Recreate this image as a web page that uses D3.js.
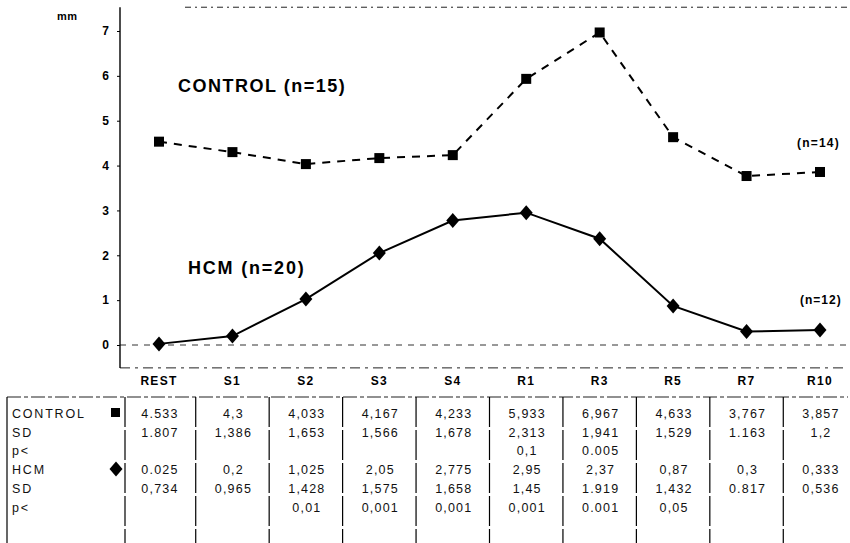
<!DOCTYPE html>
<html><head><meta charset="utf-8">
<script src="https://cdn.jsdelivr.net/npm/d3@7"></script>
<style>
body{margin:0;background:#fff;}
svg{display:block;font-family:"Liberation Sans",Arial,sans-serif;}
</style></head>
<body><svg id="c" width="850" height="543"></svg>
<script>
const categories = ["REST","S1","S2","S3","S4","R1","R3","R5","R7","R10"];
const controlMean = ["4.533","4,3","4,033","4,167","4,233","5,933","6,967","4,633","3,767","3,857"];
const controlSD   = ["1.807","1,386","1,653","1,566","1,678","2,313","1,941","1,529","1.163","1,2"];
const controlP    = ["","","","","","0,1","0.005","","",""];
const hcmMean     = ["0.025","0,2","1,025","2,05","2,775","2,95","2,37","0,87","0,3","0,333"];
const hcmSD       = ["0,734","0,965","1,428","1,575","1,658","1,45","1.919","1,432","0.817","0,536"];
const hcmP        = ["","","0,01","0,001","0,001","0,001","0.001","0,05","",""];
const yTicks = [0,1,2,3,4,5,6,7];

const num = s => +s.replace(",", ".");
const svg = d3.select("#c");
const x = d3.scalePoint().domain(categories).range([159, 820]);
const y = d3.scaleLinear().domain([0, 7]).range([345, 31]);
const axisX = 120, rightX = 848;

// frame lines
svg.append("line").attr("x1", 185).attr("x2", rightX).attr("y1", y(7.53)).attr("y2", y(7.53))
  .attr("stroke", "#222").attr("stroke-width", 1).attr("stroke-dasharray", "6,4,2,4");
svg.append("line").attr("x1", axisX).attr("x2", rightX).attr("y1", y(-0.51)).attr("y2", y(-0.51))
  .attr("stroke", "#222").attr("stroke-width", 1).attr("stroke-dasharray", "10,5,3,5");
svg.append("line").attr("x1", axisX).attr("x2", rightX).attr("y1", y(0)).attr("y2", y(0))
  .attr("stroke", "#333").attr("stroke-width", 1).attr("stroke-dasharray", "6,6");

// y axis
const ya = svg.append("g").attr("transform", `translate(${axisX},0)`)
  .call(d3.axisLeft(y).tickValues(yTicks).tickSize(3).tickPadding(8).tickFormat(d3.format("d")));
ya.select(".domain").remove();
ya.append("line").attr("x1", 0).attr("x2", 0).attr("y1", y(7.53)).attr("y2", y(-0.51))
  .attr("stroke", "#000").attr("stroke-width", 1.4);
ya.selectAll(".tick line").attr("stroke", "#000");
ya.selectAll(".tick text").attr("font-size", 12).attr("font-weight", "bold").attr("fill", "#000")
  .attr("font-family", "Liberation Sans, Arial, sans-serif");
svg.append("text").attr("x", 57).attr("y", 20).text("mm")
  .attr("font-size", 11).attr("font-weight", "bold").attr("letter-spacing", 0.5);

// x labels
svg.append("g").selectAll("text").data(categories).join("text")
  .attr("x", d => x(d)).attr("y", 385).attr("text-anchor", "middle")
  .attr("font-size", 12).attr("font-weight", "bold").attr("letter-spacing", 1.3).text(d => d);

// lines
const line = d3.line().x((d, i) => x(categories[i])).y(d => y(num(d)));
svg.append("path").datum(controlMean).attr("d", line).attr("fill", "none")
  .attr("stroke", "#000").attr("stroke-width", 2).attr("stroke-dasharray", "8,7");
svg.append("path").datum(hcmMean).attr("d", line).attr("fill", "none")
  .attr("stroke", "#000").attr("stroke-width", 2);

svg.append("g").selectAll("rect").data(controlMean).join("rect")
  .attr("x", (d, i) => x(categories[i]) - 5).attr("y", d => y(num(d)) - 5)
  .attr("width", 10).attr("height", 10).attr("fill", "#000");
const diamond = "M0,-7.5L6.5,0L0,7.5L-6.5,0Z";
svg.append("g").selectAll("path").data(hcmMean).join("path")
  .attr("transform", (d, i) => `translate(${x(categories[i])},${y(num(d))})`)
  .attr("d", diamond).attr("fill", "#000");

// annotations
svg.append("text").attr("x", 178).attr("y", 92).text("CONTROL (n=15)")
  .attr("font-size", 18).attr("font-weight", "bold").attr("letter-spacing", 1.5);
svg.append("text").attr("x", 188).attr("y", 274).text("HCM (n=20)")
  .attr("font-size", 18).attr("font-weight", "bold").attr("letter-spacing", 1.8);
svg.append("text").attr("x", 797).attr("y", 147).text("(n=14)")
  .attr("font-size", 12).attr("font-weight", "bold").attr("letter-spacing", 1.2);
svg.append("text").attr("x", 800).attr("y", 304).text("(n=12)")
  .attr("font-size", 12).attr("font-weight", "bold").attr("letter-spacing", 1);

// table
const tableTop = 397, tableLeft = 7, rowH = 18.7, firstRowY = 418;
const rows = [
  {label: "CONTROL", vals: controlMean, sym: "sq"},
  {label: "SD", vals: controlSD},
  {label: "p<", vals: controlP},
  {label: "HCM", vals: hcmMean, sym: "di"},
  {label: "SD", vals: hcmSD},
  {label: "p<", vals: hcmP}
];
svg.append("line").attr("x1", tableLeft).attr("x2", rightX).attr("y1", tableTop).attr("y2", tableTop)
  .attr("stroke", "#222").attr("stroke-width", 1.2).attr("stroke-dasharray", "14,3,4,3");
const step = x.step();
const seps = [125].concat(categories.slice(0, -1).map(c => x(c) + step / 2));
svg.append("line").attr("x1", tableLeft).attr("x2", tableLeft).attr("y1", tableTop).attr("y2", 543)
  .attr("stroke", "#000").attr("stroke-width", 1.2);
svg.append("g").selectAll("line").data(seps).join("line")
  .attr("x1", d => d).attr("x2", d => d).attr("y1", tableTop).attr("y2", 543)
  .attr("stroke", "#000").attr("stroke-width", 1.2).attr("stroke-dasharray", "30,3");
const tg = svg.append("g").attr("font-size", 12.5).attr("fill", "#111");
rows.forEach((r, ri) => {
  const yy = firstRowY + ri * rowH;
  tg.append("text").attr("x", 12).attr("y", yy).attr("letter-spacing", 1.8).text(r.label);
  tg.selectAll(null).data(r.vals).join("text")
    .attr("x", (d, i) => x(categories[i]) + 1).attr("y", yy).attr("text-anchor", "middle")
    .attr("letter-spacing", 1.2).text(d => d);
  if (r.sym === "sq") tg.append("rect").attr("x", 111).attr("y", yy - 10).attr("width", 9).attr("height", 9).attr("fill", "#000");
  if (r.sym === "di") tg.append("path").attr("transform", `translate(116,${yy - 5})`).attr("d", diamond).attr("fill", "#000");
});
</script></body></html>
